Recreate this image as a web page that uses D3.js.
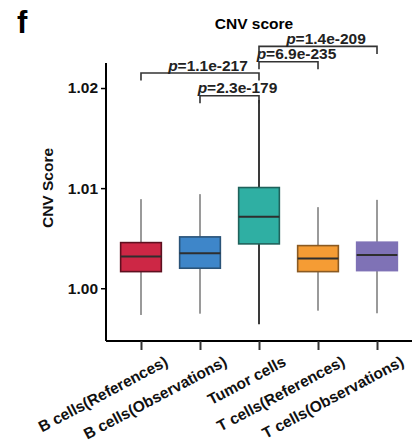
<!DOCTYPE html>
<html>
<head>
<meta charset="utf-8">
<script src="https://cdn.jsdelivr.net/npm/d3@7"></script>
<style>
  html, body { margin: 0; padding: 0; background: #fff; }
  svg { display: block; font-family: "Liberation Sans", Arial, sans-serif; }
</style>
</head>
<body>
<svg id="chart" width="414" height="443"></svg>
<script>
// Cell groups on the x axis
const categories = [
  "B cells(References)",
  "B cells(Observations)",
  "Tumor cells",
  "T cells(References)",
  "T cells(Observations)"
];

// Box-plot summary per group: whisker low, Q1, median, Q3, whisker high
const whiskerLow  = [0.99733, 0.99746, 0.99640, 0.99776, 0.99750];
const q1Values    = [1.00166, 1.00200, 1.00443, 1.00166, 1.00176];
const medians     = [1.00316, 1.00350, 1.00713, 1.00296, 1.00333];
const q3Values    = [1.00456, 1.00513, 1.01006, 1.00426, 1.00460];
const whiskerHigh = [1.00890, 1.00940, 1.01880, 1.00810, 1.00883];

// Group colours (fill, outline, whisker)
const fillColors    = ["#CD2745", "#3E86C9", "#2FAFA3", "#F59C34", "#7F72B6"];
const strokeColors  = ["#5e1020", "#2a5378", "#1f625b", "#8a5a22", "#7F72B6"];
const whiskerColors = ["#9a9a9a", "#9a9a9a", "#3a3a3a", "#9a9a9a", "#9a9a9a"];

// Y axis ticks and extent
const yTicks  = [1.00, 1.01, 1.02];
const yExtent = [0.99473, 1.0225];

// Pairwise comparisons: group indices, p-value label, bracket height (score units)
const compFrom   = [0, 1, 2, 2];
const compTo     = [2, 2, 3, 4];
const compLabels = ["1.1e-217", "2.3e-179", "6.9e-235", "1.4e-209"];
const compLevels = [1.02150, 1.01923, 1.02263, 1.02416];

const svg = d3.select("#chart");
const W = 414;
const margin = { left: 106, right: 2, top: 63, bottom: 102 };
const H = 443;

const x = d3.scalePoint()
  .domain(categories)
  .range([margin.left, W - margin.right])
  .padding(0.593);

const y = d3.scaleLinear()
  .domain(yExtent)
  .range([H - margin.bottom, margin.top]);

const boxW = x.step() * 0.69;
const FONT = 15.5;

// Panel letter and title
svg.append("text")
  .attr("x", 17).attr("y", 33)
  .attr("font-size", 31).attr("font-weight", "bold")
  .text("f");

svg.append("text")
  .attr("x", 254).attr("y", 29)
  .attr("text-anchor", "middle")
  .attr("font-size", FONT).attr("font-weight", "bold")
  .text("CNV score");

// Boxes
const groups = categories.map((c, i) => ({
  name: c, lo: whiskerLow[i], q1: q1Values[i], med: medians[i],
  q3: q3Values[i], hi: whiskerHigh[i], i
}));

const g = svg.append("g").selectAll("g.box").data(groups).join("g").attr("class", "box");

g.append("line")
  .attr("x1", d => x(d.name)).attr("x2", d => x(d.name))
  .attr("y1", d => y(d.hi)).attr("y2", d => y(d.q3))
  .attr("stroke", d => whiskerColors[d.i]).attr("stroke-width", 2);

g.append("line")
  .attr("x1", d => x(d.name)).attr("x2", d => x(d.name))
  .attr("y1", d => y(d.q1)).attr("y2", d => y(d.lo))
  .attr("stroke", d => whiskerColors[d.i]).attr("stroke-width", 2);

g.append("rect")
  .attr("x", d => x(d.name) - boxW / 2)
  .attr("width", boxW)
  .attr("y", d => y(d.q3))
  .attr("height", d => y(d.q1) - y(d.q3))
  .attr("fill", d => fillColors[d.i])
  .attr("stroke", d => strokeColors[d.i])
  .attr("stroke-width", 1.6);

g.append("line")
  .attr("x1", d => x(d.name) - boxW / 2).attr("x2", d => x(d.name) + boxW / 2)
  .attr("y1", d => y(d.med)).attr("y2", d => y(d.med))
  .attr("stroke", "#2e2e2e").attr("stroke-width", 2);

// Axes
const yAxis = d3.axisLeft(y).tickValues(yTicks).tickFormat(d3.format(".2f"))
  .tickSize(5).tickPadding(3);
const yG = svg.append("g").attr("transform", `translate(${margin.left},0)`).call(yAxis);
yG.select(".domain").attr("d", `M0,${margin.top}V${H - margin.bottom}`)
  .attr("stroke", "#000").attr("stroke-width", 2);
yG.selectAll(".tick line").attr("stroke", "#000").attr("stroke-width", 1.5);
yG.selectAll(".tick text").attr("font-size", FONT).attr("font-weight", "bold")
  .attr("fill", "#111").attr("font-family", "Liberation Sans, Arial, sans-serif");

const xAxis = d3.axisBottom(x).tickSize(9).tickFormat("");
const xG = svg.append("g").attr("transform", `translate(0,${H - margin.bottom})`).call(xAxis);
xG.select(".domain").attr("d", `M${margin.left},0H${W - margin.right}`)
  .attr("stroke", "#000").attr("stroke-width", 2);
xG.selectAll(".tick line").attr("stroke", "#333").attr("stroke-width", 2);

// Rotated category labels
svg.append("g").selectAll("text").data(categories).join("text")
  .attr("transform", d => `translate(${x(d) + 28},${H - margin.bottom + 24}) rotate(-28)`)
  .attr("text-anchor", "end")
  .attr("font-size", FONT).attr("font-weight", "bold").attr("fill", "#111")
  .text(d => d);

// Y axis title
svg.append("text")
  .attr("transform", `translate(53,188) rotate(-90)`)
  .attr("text-anchor", "middle")
  .attr("font-size", FONT).attr("font-weight", "bold").attr("fill", "#111")
  .text("CNV Score");

// Significance brackets
const legLen = 7.5;
const comps = compLabels.map((lab, k) => ({
  a: categories[compFrom[k]], b: categories[compTo[k]], lab, lvl: compLevels[k]
}));
const cg = svg.append("g").selectAll("g").data(comps).join("g");
cg.append("path")
  .attr("d", d => {
    const yy = y(d.lvl);
    return `M${x(d.a)},${yy + legLen}V${yy}H${x(d.b)}V${yy + legLen}`;
  })
  .attr("fill", "none").attr("stroke", "#333").attr("stroke-width", 1.6);
const lt = cg.append("text")
  .attr("x", d => (x(d.a) + x(d.b)) / 2 + 8)
  .attr("y", d => y(d.lvl) - 2.5)
  .attr("text-anchor", "middle")
  .attr("font-size", FONT).attr("font-weight", "bold").attr("fill", "#222");
lt.append("tspan").attr("font-style", "italic").text("p");
lt.append("tspan").text(d => "=" + d.lab);
</script>
</body>
</html>
